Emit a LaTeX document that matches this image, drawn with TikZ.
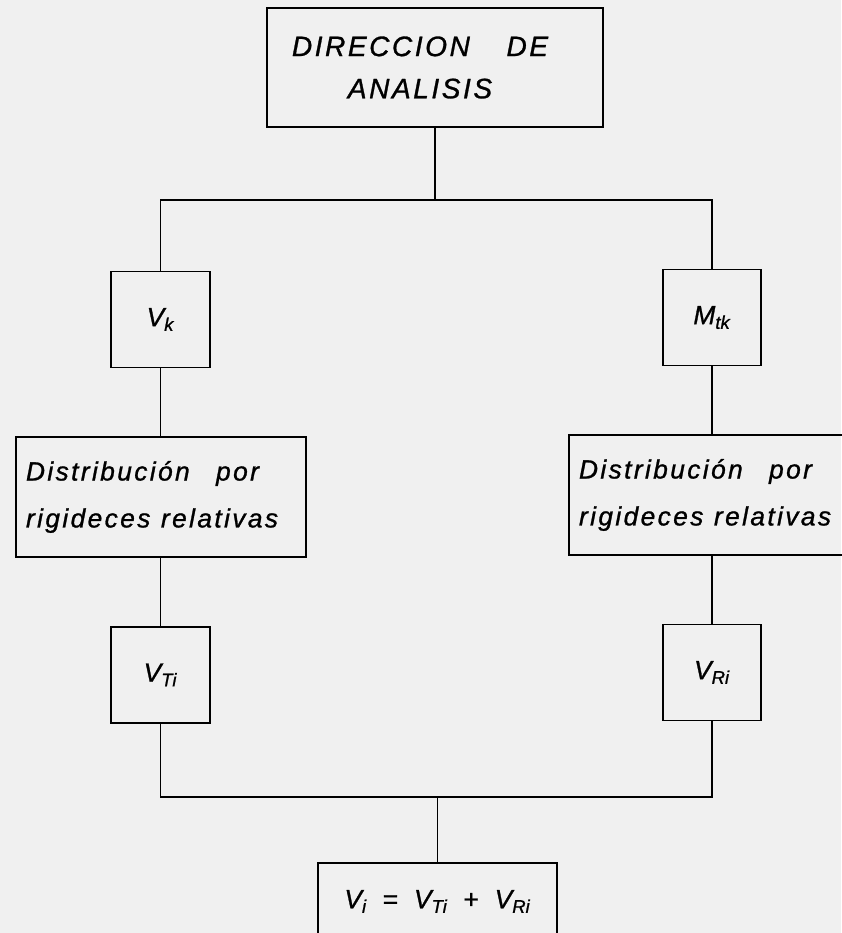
\documentclass[tikz,border=0pt]{standalone}
\usepackage{amsmath}
\usepackage{fontspec}
\setmainfont{Liberation Sans}[FakeBold=1]
\usepackage{tikz}

\newcommand{\qty}[2]{\text{\itshape #1}_{\text{\itshape #2}}}

\begin{document}
\begin{tikzpicture}[
        box/.style={draw,line width=1.1pt,inner sep=0pt},
        dist/.style={box,align=left,text width=5.4cm,inner xsep=0.2cm,minimum height=2.4cm,
            font=\fontsize{15}{26.7}\selectfont\itshape\addfontfeatures{LetterSpace=9}},
        sym/.style={box,minimum width=1.97cm,minimum height=1.92cm,font=\fontsize{15}{17}\selectfont},
        link/.style={line width=1pt}]
        \useasboundingbox (0,0) rectangle (16.82,-18.66);
        \fill[black!6] (0,0) rectangle (16.82,-18.66);
        \node[box,minimum width=6.72cm,minimum height=2.38cm,align=center,
            font=\fontsize{16}{24}\selectfont\itshape\addfontfeatures{LetterSpace=9}]
            (dir) at (8.7,-1.35) {DIRECCION\hspace{1.3em}DE\hspace*{0.6cm}\\ANALISIS\hspace*{0.6cm}};
        \node[sym] (vk) at (3.21,-6.39) {$\qty{V}{k}$};
        \node[sym] (mtk) at (14.24,-6.35) {$\qty{M}{tk}$};
        \node[dist] (distl) at (3.22,-9.94) {Distribución\hspace{1em}por\\rigideces\hspace{0.4em}relativas};
        \node[dist] (distr) at (14.28,-9.9) {Distribución\hspace{1em}por\\rigideces\hspace{0.4em}relativas};
        \node[sym] (vti) at (3.21,-13.5) {$\qty{V}{Ti}$};
        \node[sym] (vri) at (14.24,-13.45) {$\qty{V}{Ri}$};
        \node[box,minimum width=4.78cm,minimum height=1.54cm,font=\fontsize{15}{17}\selectfont]
            (vi) at (8.75,-18.03) {$\qty{V}{i}\hspace{0.6em}\text{=}\hspace{0.6em}\qty{V}{Ti}\hspace{0.6em}\text{+}\hspace{0.6em}\qty{V}{Ri}$};
        \coordinate (split) at (dir.south |- 0,-4.0);
        \coordinate (join) at (vi.north |- 0,-15.94);
        \draw[link] (dir.south) -- (split);
        \draw[link] (vk.north) |- (split) -| (mtk.north);
        \draw[link] (vk.south) -- (vk.south |- distl.north);
        \draw[link] (mtk.south) -- (mtk.south |- distr.north);
        \draw[link] (vti.north |- distl.south) -- (vti.north);
        \draw[link] (vri.north |- distr.south) -- (vri.north);
        \draw[link] (vti.south) |- (join) -| (vri.south);
        \draw[link] (join) -- (vi.north);
    \end{tikzpicture}
\end{document}
